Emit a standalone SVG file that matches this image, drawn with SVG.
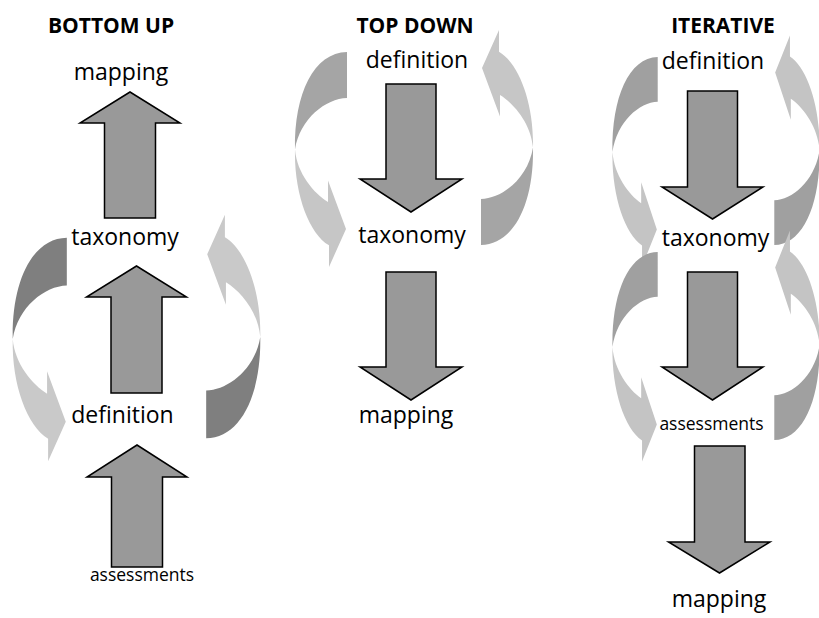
<svg xmlns="http://www.w3.org/2000/svg" width="819" height="618" viewBox="0 0 819 618">
<style>
  .hd { font-family: "Open Sans", "Liberation Sans", sans-serif; font-weight: bold; font-size: 21px; fill: #000; text-anchor: middle; }
  .lb { font-family: "Open Sans", "Liberation Sans", sans-serif; font-size: 23px; fill: #000; text-anchor: middle; }
  .sm { font-family: "Open Sans", "Liberation Sans", sans-serif; font-size: 17.5px; fill: #000; text-anchor: middle; }
  .blk { fill: #999999; stroke: #000; stroke-width: 1.5; stroke-linejoin: miter; }
</style>
<defs>
  <path id="D" d="M -67,-96.5 C -100,-96 -120,-55 -119,1 C -114,-30 -88,-50 -67,-50.5 Z"/>
  <path id="L" d="M -119,1 C -120,45 -105,85 -85,96.8 L -85,118.5 L -68,80.5 L -86,32 L -86,53.5 C -100,45 -117,25 -119,1 Z"/>
</defs>
<rect width="819" height="618" fill="#ffffff"/>
<g id="connectors">
  <g id="cycle-bottom-up" transform="translate(136.5,338) scale(1.04,1.04)">
    <use href="#D" fill="#7f7f7f"/>
    <use href="#L" fill="#c9c9c9"/>
    <use href="#L" fill="#c9c9c9" transform="rotate(180)"/>
    <use href="#D" fill="#7f7f7f" transform="rotate(180)"/>
  </g>
  <g id="cycle-top-down" transform="translate(414,148.5)">
    <use href="#D" fill="#a5a5a5"/>
    <use href="#L" fill="#c6c6c6"/>
    <use href="#L" fill="#c6c6c6" transform="rotate(180)"/>
    <use href="#D" fill="#a5a5a5" transform="rotate(180)"/>
  </g>
  <g id="cycle-iterative-1" transform="translate(716,151) scale(0.87,0.975)">
    <use href="#D" fill="#a0a0a0"/>
    <use href="#L" fill="#c4c4c4"/>
    <use href="#L" fill="#c4c4c4" transform="rotate(180)"/>
    <use href="#D" fill="#a0a0a0" transform="rotate(180)"/>
  </g>
  <g id="cycle-iterative-2" transform="translate(716,346) scale(0.87,0.975)">
    <use href="#D" fill="#a0a0a0"/>
    <use href="#L" fill="#c4c4c4"/>
    <use href="#L" fill="#c4c4c4" transform="rotate(180)"/>
    <use href="#D" fill="#a0a0a0" transform="rotate(180)"/>
  </g>
  <!-- bottom up block arrows -->
  <path class="blk" d="M 130,92 L 180,123 L 155.5,123 L 155.5,218 L 104.5,218 L 104.5,123 L 80,123 Z"/>
  <path class="blk" d="M 136.5,266 L 186.5,297 L 162,297 L 162,393 L 111,393 L 111,297 L 86.5,297 Z"/>
  <path class="blk" d="M 137,445 L 187,477 L 162.5,477 L 162.5,567 L 111.5,567 L 111.5,477 L 87,477 Z"/>
  <!-- top down block arrows -->
  <path class="blk" d="M 386,84 L 436,84 L 436,179 L 462,179 L 411,212 L 360,179 L 386,179 Z"/>
  <path class="blk" d="M 386,272 L 436,272 L 436,367 L 462,367 L 411,400 L 360,367 L 386,367 Z"/>
  <!-- iterative block arrows -->
  <path class="blk" d="M 687.5,91 L 737.5,91 L 737.5,187 L 763,187 L 712.5,219 L 662,187 L 687.5,187 Z"/>
  <path class="blk" d="M 687.5,272 L 737.5,272 L 737.5,367 L 763,367 L 712.5,400 L 662,367 L 687.5,367 Z"/>
  <path class="blk" d="M 694.5,446 L 745,446 L 745,542 L 770,542 L 719.5,573 L 668.5,542 L 694.5,542 Z"/>
</g>
<g id="headings">
  <text class="hd" x="111" y="33">BOTTOM UP</text>
  <text class="hd" x="415" y="33">TOP DOWN</text>
  <text class="hd" x="723" y="33">ITERATIVE</text>
</g>
<g id="bu-mapping"><text class="lb" x="121" y="80">mapping</text></g>
<g id="bu-taxonomy"><text class="lb" x="125" y="245">taxonomy</text></g>
<g id="bu-definition"><text class="lb" x="122.5" y="423">definition</text></g>
<g id="bu-assessments"><text class="sm" x="142" y="581">assessments</text></g>
<g id="td-definition"><text class="lb" x="417" y="68">definition</text></g>
<g id="td-taxonomy"><text class="lb" x="412" y="243">taxonomy</text></g>
<g id="td-mapping"><text class="lb" x="406" y="423">mapping</text></g>
<g id="it-definition"><text class="lb" x="713" y="69">definition</text></g>
<g id="it-taxonomy"><text class="lb" x="715.5" y="246">taxonomy</text></g>
<g id="it-assessments"><text class="sm" x="711.5" y="430">assessments</text></g>
<g id="it-mapping"><text class="lb" x="719" y="607">mapping</text></g>
</svg>
